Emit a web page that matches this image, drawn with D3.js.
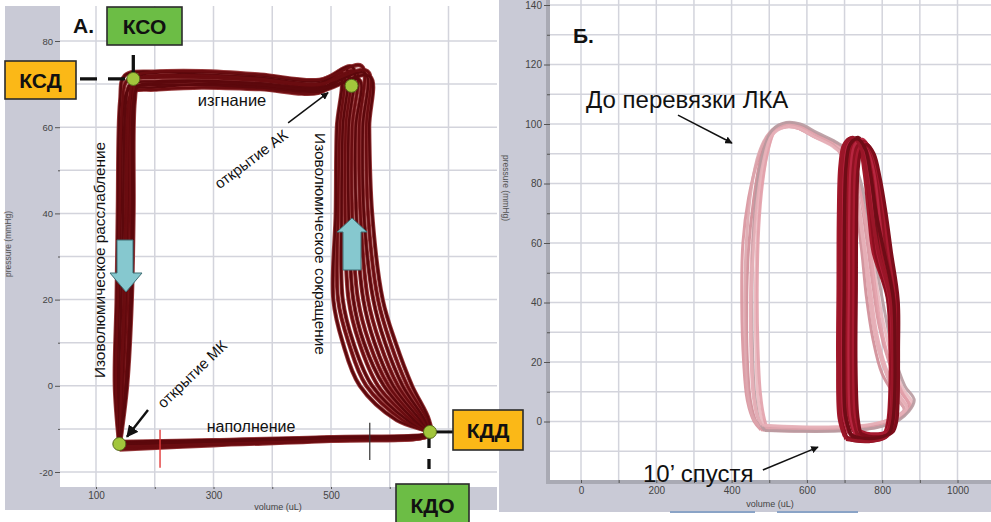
<!DOCTYPE html>
<html><head><meta charset="utf-8">
<script src="https://cdn.jsdelivr.net/npm/d3@7"></script>
<style>
html,body{margin:0;padding:0;background:#fff;}
svg{display:block;font-family:"Liberation Sans",Arial,sans-serif;}
</style></head><body>
<svg id="c" width="991" height="522"></svg>
<script>
// ---------- Panel A: axis ticks ----------
const gridXA = [100,200,300,400,500,600,700];
const labelXA = [100,300,500];
const gridYA = [-20,-10,0,10,20,30,40,50,60,70,80];
const labelYA = [-20,0,20,40,60,80];
// ---------- Panel B: axis ticks ----------
const gridXB = [0,100,200,300,400,500,600,700,800,900,1000];
const labelXB = [0,200,400,600,800,1000];
const gridYB = [-10,0,10,20,30,40,50,60,70,80,90,100,110,120,130,140];
const labelYB = [0,20,40,60,80,100,120,140];

// ---------- Panel A: PV loops (volume uL, pressure mmHg) ----------
const loopsA = [
 [[140,-13.6],[300,-13.0],[500,-12.2],[668,-11.0],[612,-8],[549,0],[520,10],[504,20],[508,40],[510,60],[516,71.5],[480,68.5],[380,69.5],[280,70.0],[200,69.2],[156,68.8],[148,66],[142,40],[139,20],[136,0],[140,-13.6]],
 [[141,-14.2],[300,-13.4],[500,-12.5],[668,-11.2],[622,-8],[560,0],[530,10],[512,20],[512,40],[515,60],[520,72.5],[480,69.5],[380,71.0],[280,71.8],[200,72.0],[168,71.0],[160,66],[156,40],[153,20],[146,0],[141,-14.2]],
 [[139,-13.0],[300,-12.6],[500,-11.9],[668,-10.8],[630,-8],[570,0],[538,10],[520,20],[518,40],[520,60],[526,73.5],[480,70.2],[380,71.5],[280,72.2],[200,72.9],[149,72.0],[141,66],[137,40],[135,20],[132,0],[139,-13.0]],
 [[140,-14.8],[300,-13.8],[500,-12.8],[668,-11.4],[636,-8],[580,0],[548,10],[530,20],[524,40],[525,60],[530,72.0],[480,68.0],[380,68.8],[280,69.2],[200,68.7],[163,68.3],[155,66],[150,40],[147,20],[142,0],[140,-14.8]],
 [[141,-13.3],[300,-12.8],[500,-12.0],[668,-10.9],[642,-8],[590,0],[556,10],[538,20],[530,40],[530,60],[536,74.0],[480,70.8],[380,72.0],[280,72.8],[200,72.6],[174,71.8],[166,66],[164,40],[161,20],[153,0],[141,-13.3]],
 [[140,-14.0],[300,-13.2],[500,-12.4],[668,-11.1],[647,-8],[598,0],[565,10],[546,20],[536,40],[536,60],[542,73.0],[480,69.8],[380,70.8],[280,71.5],[200,71.5],[153,70.8],[145,66],[140,40],[137,20],[134,0],[140,-14.0]],
 [[139,-13.8],[300,-13.1],[500,-12.3],[668,-11.0],[652,-8],[606,0],[574,10],[555,20],[543,40],[542,60],[548,71.0],[480,68.3],[380,69.2],[280,69.8],[200,69.8],[166,69.2],[158,66],[153,40],[150,20],[144,0],[139,-13.8]],
 [[140,-14.5],[300,-13.6],[500,-12.6],[668,-11.3],[656,-8],[614,0],[583,10],[563,20],[550,40],[548,60],[552,74.2],[480,71.0],[380,72.2],[280,73.0],[200,72.8],[171,72.0],[163,66],[160,40],[157,20],[150,0],[140,-14.5]],
 [[141,-13.2],[300,-12.7],[500,-12.0],[668,-10.8],[660,-8],[622,0],[592,10],[572,20],[556,40],[554,60],[558,72.5],[480,69.2],[380,70.2],[280,70.8],[200,70.6],[159,70.0],[151,66],[146,40],[143,20],[139,0],[141,-13.2]],
 [[140,-14.1],[300,-13.3],[500,-12.4],[668,-11.2],[664,-8],[630,0],[601,10],[580,20],[563,40],[560,60],[562,73.0],[480,70.0],[380,71.2],[280,72.0],[200,71.8],[165,71.0],[157,66],[152,40],[149,20],[143,0],[140,-14.1]],
 [[140,-13.5],[300,-12.9],[500,-12.1],[668,-11.0],[667,-8],[638,0],[610,10],[588,20],[570,40],[565,60],[566,71.8],[480,68.8],[380,69.8],[280,70.6],[200,70.2],[172,69.6],[164,66],[162,40],[159,20],[151,0],[140,-13.5]]
];
// key points: КСО, открытие АК, КДО, открытие МК
const keyV = [163.5, 535, 668.5, 139.7];
const keyP = [71.2, 69.6, -10.7, -13.5];

// ---------- Panel B: before ligation (pink) and 10' after (dark) ----------
const loopsBefore = [
 [[485,-2],[580,-2.5],[680,-2.5],[770,-1.5],[840,1],[868,4],[845,9],[810,18],[785,30],[768,45],[752,60],[730,78],[700,90],[670,93.5],[620,96.5],[575,99.5],[540,100],[505,97],[482,88],[466,75],[455,60],[450,40],[452,20],[458,8],[470,1],[485,-2]],
 [[478,-2.8],[570,-3.2],[670,-3],[760,-2.5],[830,0],[872,5],[850,10],[818,20],[792,32],[775,46],[758,62],[738,78],[708,89],[675,92.5],[625,95.5],[580,98.5],[545,99],[500,96.5],[470,88],[445,75],[430,60],[427,40],[432,20],[442,7],[460,0],[478,-2.8]],
 [[490,-1.5],[590,-2],[690,-2],[780,-1],[850,2],[880,6],[855,11],[825,22],[800,35],[780,50],[760,65],[735,80],[705,90],[672,93],[630,96],[585,99],[550,99.5],[515,97.5],[495,90],[478,78],[468,62],[463,42],[465,22],[470,8],[480,1],[490,-1.5]],
 [[482,-2.2],[575,-2.8],[675,-2.8],[765,-2],[835,0.5],[862,3],[838,8],[800,16],[775,28],[758,42],[745,58],[725,76],[695,89],[668,93],[615,96],[570,99],[535,99.5],[498,96],[475,87],[458,74],[445,58],[440,40],[442,20],[450,7],[465,0],[482,-2.2]],
 [[495,-2.5],[595,-2.8],[690,-2.6],[785,-1.8],[848,1.5],[875,5],[852,10],[820,20],[795,33],[778,48],[762,63],[740,79],[712,90],[680,93.5],[635,96],[590,99],[552,100.3],[518,98.5],[498,92],[482,80],[472,65],[468,45],[470,25],[476,10],[485,2],[495,-2.5]],
 [[475,-1.8],[565,-2.2],[665,-2.3],[755,-1.5],[825,1],[858,4],[835,9],[802,19],[778,31],[762,46],[748,61],[727,78],[698,89.5],[668,93],[618,96],[572,99.2],[538,99.8],[500,97],[472,90],[452,78],[440,62],[435,42],[437,22],[444,8],[458,1],[475,-1.8]],
 [[488,-3],[585,-3.3],[685,-3.2],[775,-2.3],[845,0.5],[885,7],[860,12],[828,24],[805,38],[785,52],[765,67],[742,81],[710,91],[676,94],[628,97],[582,100],[545,100.5],[508,98],[485,91],[468,79],[458,62],[454,42],[456,22],[462,8],[474,0],[488,-3]],
 [[480,-1.2],[578,-1.8],[678,-1.8],[768,-1],[838,1.5],[865,4.5],[842,9],[806,18],[782,29],[765,44],[750,60],[728,77],[698,89],[668,92.5],[622,95.5],[578,98.5],[542,99],[506,96],[484,87],[468,74],[458,58],[452,40],[454,20],[460,8],[470,1.5],[480,-1.2]]
];
const loopsAfter = [
 [[700,-5],[686,1],[682,20],[683,45],[684,70],[688,86],[698,93],[718,95.2],[740,92],[752,84],[764,70],[776,57],[813,42],[821,24],[820,8],[815,0],[805,-4],[770,-6],[725,-6],[700,-5]],
 [[706,-5.5],[692,1],[688,20],[689,45],[690,70],[694,86],[704,93],[724,95],[745,92],[758,84],[770,70],[782,57],[816,41],[824,24],[823,8],[818,0],[808,-4.5],[775,-6.5],[730,-6.5],[706,-5.5]],
 [[712,-4],[698,2],[694,20],[695,45],[696,70],[700,86],[710,93],[730,94.8],[750,91.5],[764,83],[776,70],[788,57],[820,41],[827,24],[826,8],[821,0],[811,-3.5],[780,-5],[735,-5],[712,-4]],
 [[718,-5],[704,2],[700,20],[701,45],[702,70],[706,86],[716,93.5],[736,95.5],[756,92],[770,84],[782,70],[794,57],[824,41],[830,24],[829,8],[824,0],[814,-4],[785,-6],[740,-6],[718,-5]],
 [[724,-3.5],[710,3],[706,20],[707,45],[708,70],[712,86],[722,93],[742,94.5],[760,91],[774,83],[788,70],[800,57],[828,41],[833,24],[832,8],[827,0],[817,-3],[790,-4.5],[745,-4.5],[724,-3.5]],
 [[730,-5],[716,2],[712,20],[713,45],[714,70],[718,86],[728,93],[748,94.8],[766,91.5],[780,84],[794,70],[806,57],[832,41],[836,24],[835,8],[830,0],[820,-4],[795,-6],[750,-6],[730,-5]],
 [[734,-4.5],[722,2],[718,20],[719,45],[720,70],[724,86],[734,92.5],[752,94],[770,91],[786,84],[800,70],[812,57],[836,41],[839,24],[838,8],[833,0],[823,-3.5],[798,-5.5],[755,-5.5],[734,-4.5]],
 [[738,-3],[728,3],[724,20],[725,45],[726,70],[730,86],[740,92],[756,93.5],[774,90.5],[790,83],[806,70],[818,57],[840,41],[842,24],[841,8],[836,0],[826,-3],[800,-4],[760,-4],[738,-3]],
 [[742,-4],[734,3],[730,20],[731,45],[732,70],[736,85],[745,91.5],[760,93],[778,90],[794,82],[810,70],[824,57],[842,41],[843,24],[842,8],[838,0],[828,-3.5],[802,-5],[765,-5],[742,-4]],
 [[704,-6],[690,0],[686,20],[687,45],[688,70],[692,86],[702,93.5],[722,95.5],[742,92.5],[756,85],[772,70],[790,57],[822,41],[828,24],[827,8],[822,0],[812,-5],[780,-6.5],[735,-6.5],[704,-6]],
 [[716,-4.5],[702,2],[698,20],[699,45],[700,70],[704,86],[714,93],[734,95],[754,92],[768,84],[784,70],[805,57],[830,41],[834,24],[833,8],[828,0],[818,-4],[788,-5.5],[742,-5.5],[716,-4.5]]
];

// ---------- setup ----------
const svg = d3.select("#c");
const GRAY = "#c9cad6", GRID = "#d3d4dc";

const xA = d3.scaleLinear().domain([100,500]).range([96,331]);
const yA = d3.scaleLinear().domain([-20,80]).range([472,41]);
const xB = d3.scaleLinear().domain([0,1000]).range([581,957.5]);
const yB = d3.scaleLinear().domain([0,140]).range([421.5,5]);

const A = {l:60, r:497, t:6, b:487};
const B = {l:550, r:991, t:0, b:480};

const defs = svg.append("defs");
defs.append("clipPath").attr("id","clipA").append("rect")
  .attr("x",A.l).attr("y",A.t).attr("width",A.r-A.l).attr("height",A.b-A.t);
defs.append("clipPath").attr("id","clipB").append("rect")
  .attr("x",B.l).attr("y",B.t).attr("width",B.r-B.l).attr("height",B.b-B.t);
defs.append("marker").attr("id","arr").attr("viewBox","0 0 10 10")
  .attr("refX",9).attr("refY",5).attr("markerWidth",5).attr("markerHeight",5)
  .attr("orient","auto").attr("markerUnits","strokeWidth")
  .append("path").attr("d","M0,0L10,5L0,10z").attr("fill","#111");

function styleAxis(g, fs){
  g.select(".domain").remove();
  g.selectAll(".tick line").attr("stroke","#555").attr("stroke-width",1);
  g.selectAll(".tick text").attr("fill","#444").attr("font-size",fs)
    .attr("font-family","'Liberation Sans',Arial,sans-serif");
}
const T = (x,y,s,fs,opt={})=>{
  const t = svg.append("text").attr("x",x).attr("y",y).attr("font-size",fs).attr("fill",opt.fill||"#111")
    .attr("text-anchor",opt.anchor||"middle").text(s);
  if(opt.bold) t.attr("font-weight","bold");
  if(opt.rot!==undefined) t.attr("transform",`rotate(${opt.rot},${x},${y})`).attr("dominant-baseline","central");
  return t;
};

// ---------- Panel B frame ----------
svg.append("rect").attr("x",499).attr("y",0).attr("width",991-499).attr("height",512).attr("fill",GRAY);
svg.append("rect").attr("x",546).attr("y",0).attr("width",4).attr("height",484).attr("fill","#a9aab4");
svg.append("rect").attr("x",546).attr("y",480).attr("width",445).attr("height",4).attr("fill","#a9aab4");
svg.append("rect").attr("x",B.l).attr("y",B.t).attr("width",B.r-B.l).attr("height",B.b-B.t).attr("fill","#fff");
const gB = svg.append("g").attr("clip-path","url(#clipB)");
gB.selectAll(".gx").data(gridXB).join("line")
  .attr("x1",d=>xB(d)).attr("x2",d=>xB(d)).attr("y1",B.t).attr("y2",B.b)
  .attr("stroke",GRID).attr("stroke-width",1.5);
gB.selectAll(".gy").data(gridYB).join("line")
  .attr("y1",d=>yB(d)).attr("y2",d=>yB(d)).attr("x1",B.l).attr("x2",B.r)
  .attr("stroke",GRID).attr("stroke-width",1.5);
const axYB = svg.append("g").attr("transform",`translate(${B.l},0)`)
  .call(d3.axisLeft(yB).tickValues(gridYB.filter(d=>d>=0)).tickSize(6).tickPadding(2)
    .tickFormat(d=>labelYB.includes(d)?d:""));
styleAxis(axYB, 10);
axYB.selectAll(".tick").filter(d=>!labelYB.includes(d)).select("line").attr("x2",-3);
const axXB = svg.append("g").attr("transform",`translate(0,${B.b})`)
  .call(d3.axisBottom(xB).tickValues(gridXB).tickSize(3).tickPadding(4)
    .tickFormat(d=>labelXB.includes(d)?d:""));
styleAxis(axXB, 10);
svg.append("text").attr("transform","translate(503,188) rotate(90)")
  .attr("text-anchor","middle").attr("font-size",8.5).attr("fill","#555").text("pressure (mmHg)");
svg.append("text").attr("x",770).attr("y",507).attr("text-anchor","middle")
  .attr("font-size",9).attr("fill","#444").text("volume (uL)");
svg.append("line").attr("x1",670).attr("x2",755).attr("y1",512).attr("y2",512).attr("stroke","#8aa3c6").attr("stroke-width",2);
svg.append("line").attr("x1",777).attr("x2",858).attr("y1",512).attr("y2",512).attr("stroke","#8aa3c6").attr("stroke-width",2);

// ---------- Panel B loops ----------
const lineB = d3.line().x(d=>xB(d[0])).y(d=>yB(d[1])).curve(d3.curveCatmullRom.alpha(0.5));
const pinkCols = ["#e6a9b2","#d8929c","#eab8bf","#cf8b95","#e2a0aa","#dda5ad","#b89aa0","#e7b0b8"];
gB.selectAll(".pk").data(loopsBefore).join("path").attr("d",lineB)
  .attr("fill","none").attr("stroke",(d,i)=>pinkCols[i]).attr("stroke-width",3)
  .attr("stroke-linejoin","round").attr("opacity",0.9);
const darkCols = ["#a3182b","#8a0f1f","#b0203a","#74101a","#9c1426","#b82640","#8f1222","#a81a30","#7e0d1b","#9a1628","#6e0c16"];
gB.selectAll(".dk").data(loopsAfter).join("path").attr("d",lineB)
  .attr("fill","none").attr("stroke",(d,i)=>darkCols[i]).attr("stroke-width",3.4)
  .attr("stroke-linejoin","round");

// annotations B
T(573,43,"Б.",21,{bold:true,anchor:"start"});
T(586,108,"До перевязки ЛКА",24,{anchor:"start"});
T(643,482,"10’ спустя",24,{anchor:"start"});
svg.append("line").attr("x1",xB(257.6)).attr("y1",yB(103)).attr("x2",xB(401)).attr("y2",yB(93.6))
  .attr("stroke","#111").attr("stroke-width",1.5).attr("marker-end","url(#arr)");
svg.append("line").attr("x1",xB(483)).attr("y1",yB(-16.3)).attr("x2",xB(629.5)).attr("y2",yB(-8.6))
  .attr("stroke","#111").attr("stroke-width",1.5).attr("marker-end","url(#arr)");

// ---------- Panel A frame ----------
svg.append("rect").attr("x",5).attr("y",6).attr("width",A.r-5).attr("height",510-6).attr("fill",GRAY);
svg.append("rect").attr("x",A.l).attr("y",A.t).attr("width",A.r-A.l).attr("height",A.b-A.t).attr("fill","#fff");
const gA = svg.append("g").attr("clip-path","url(#clipA)");
gA.selectAll(".gx").data(gridXA).join("line")
  .attr("x1",d=>xA(d)).attr("x2",d=>xA(d)).attr("y1",A.t).attr("y2",A.b)
  .attr("stroke",GRID).attr("stroke-width",1.5);
gA.selectAll(".gy").data(gridYA).join("line")
  .attr("y1",d=>yA(d)).attr("y2",d=>yA(d)).attr("x1",A.l).attr("x2",A.r)
  .attr("stroke",GRID).attr("stroke-width",1.5);

const axYA = svg.append("g").attr("transform",`translate(${A.l},0)`)
  .call(d3.axisLeft(yA).tickValues(gridYA).tickSize(5).tickPadding(2)
    .tickFormat(d=>labelYA.includes(d)?d:""));
styleAxis(axYA, 9.5);
axYA.selectAll(".tick").filter(d=>!labelYA.includes(d)).select("line").attr("x2",-2);
const axXA = svg.append("g").attr("transform",`translate(0,${A.b})`)
  .call(d3.axisBottom(xA).tickValues(gridXA).tickSize(2).tickPadding(3)
    .tickFormat(d=>labelXA.includes(d)?d:""));
styleAxis(axXA, 10);
svg.append("text").attr("transform","translate(11,244) rotate(-90)")
  .attr("text-anchor","middle").attr("font-size",8.5).attr("fill","#555").text("pressure (mmHg)");
svg.append("text").attr("x",278).attr("y",510).attr("text-anchor","middle")
  .attr("font-size",9).attr("fill","#444").text("volume (uL)");

// ---------- Panel A loops ----------
const lineA = d3.line().x(d=>xA(d[0])).y(d=>yA(d[1])).curve(d3.curveCatmullRom.alpha(0.5));
gA.selectAll(".halo").data(loopsA).join("path").attr("d",lineA)
  .attr("fill","none").attr("stroke","#973a3c").attr("stroke-width",4.2).attr("stroke-linejoin","round");
gA.selectAll(".core").data(loopsA).join("path").attr("d",lineA)
  .attr("fill","none").attr("stroke",(d,i)=>i%2?"#6a0c10":"#5c080c").attr("stroke-width",2.5)
  .attr("stroke-linejoin","round");

// tick marks on filling line
svg.append("line").attr("x1",xA(209)).attr("x2",xA(209)).attr("y1",yA(-10.2)).attr("y2",yA(-19))
  .attr("stroke","#e23a3a").attr("stroke-width",1.4);
svg.append("line").attr("x1",xA(566)).attr("x2",xA(566)).attr("y1",yA(-8.6)).attr("y2",yA(-17.2))
  .attr("stroke","#333").attr("stroke-width",1.2);

// blue arrows
svg.append("path").attr("d","M117,240 L133,240 L133,273 L142,273 L126,292 L110,273 L117,273 Z")
  .attr("fill","#86c8cf").attr("stroke","#3f6f75").attr("stroke-width",1);
svg.append("path").attr("d","M343,270 L361,270 L361,232 L367,232 L352,218 L337,232 L343,232 Z")
  .attr("fill","#86c8cf").attr("stroke","#3f6f75").attr("stroke-width",1);

// connectors
const blk = "#111";
svg.append("line").attr("x1",80).attr("x2",xA(keyV[0])).attr("y1",yA(keyP[0])).attr("y2",yA(keyP[0]))
  .attr("stroke",blk).attr("stroke-width",3.3).attr("stroke-dasharray","17,11");
svg.append("line").attr("x1",xA(keyV[0])).attr("x2",xA(keyV[0])).attr("y1",55).attr("y2",yA(keyP[0]))
  .attr("stroke",blk).attr("stroke-width",3.3);
svg.append("line").attr("x1",xA(keyV[2])).attr("x2",453).attr("y1",yA(keyP[2])).attr("y2",yA(keyP[2]))
  .attr("stroke",blk).attr("stroke-width",3);
svg.append("line").attr("x1",xA(keyV[2])-1).attr("x2",xA(keyV[2])-1).attr("y1",yA(keyP[2])+6).attr("y2",476)
  .attr("stroke",blk).attr("stroke-width",3.3).attr("stroke-dasharray","10,11");

// key points
svg.selectAll(".kp").data(keyV).join("circle")
  .attr("cx",d=>xA(d)).attr("cy",(d,i)=>yA(keyP[i])).attr("r",6.5)
  .attr("fill","#a2c63c").attr("stroke","#56691c").attr("stroke-width",1);

// text annotations A
T(99,260,"Изоволюмическое расслабление",15.4,{rot:-90});
T(320,244,"Изоволюмическое сокращение",15.4,{rot:90});
T(232,106,"изгнание",16.5);
T(251,432,"наполнение",16);
T(251,159,"открытие АК",15,{rot:-37});
T(192,374,"открытие МК",15,{rot:-44});
T(73,33,"А.",21,{bold:true,anchor:"start"});

svg.append("line").attr("x1",xA(427)).attr("y1",yA(61)).attr("x2",xA(495)).attr("y2",yA(68))
  .attr("stroke","#111").attr("stroke-width",1.5).attr("marker-end","url(#arr)");
svg.append("line").attr("x1",xA(188.5)).attr("y1",yA(-5.6)).attr("x2",xA(152.8)).attr("y2",yA(-11.8))
  .attr("stroke","#111").attr("stroke-width",2.4).attr("marker-end","url(#arr)");

// boxes (drawn last, on top of both panels)
const box = (x,y,w,h,fill,s)=>{
  svg.append("rect").attr("x",x).attr("y",y).attr("width",w).attr("height",h)
    .attr("fill",fill).attr("stroke","#2b2b2b").attr("stroke-width",1.6);
  svg.append("text").attr("x",x+w/2).attr("y",y+h/2+7.5).attr("text-anchor","middle")
    .attr("font-size",21).attr("font-weight","bold").attr("fill","#111").text(s);
};
const GREEN="#6cbd45", ORANGE="#fbb817";
box(107,7,75,38,GREEN,"КСО");
box(5,61,71,38,ORANGE,"КСД");
box(453,410,70,40,ORANGE,"КДД");
box(396,484,73,42,GREEN,"КДО");
</script>
</body></html>
